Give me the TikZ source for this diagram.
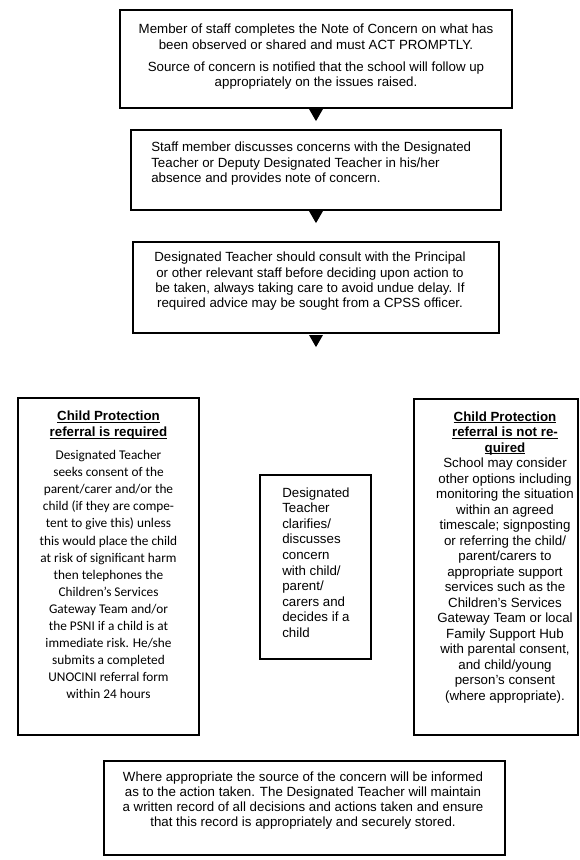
\documentclass[tikz,border=0pt]{standalone}
\usepackage{fontspec}
\setmainfont{Liberation Sans}
\newfontfamily\calibrifont{Carlito}
\usetikzlibrary{shapes.geometric,positioning,calc}
\usepackage{xcolor}

\newcommand{\ulhead}[1]{\setbox0\hbox{\bfseries #1}\rlap{\rule[-2pt]{\wd0}{1.1pt}}\box0}

\begin{document}
\begin{tikzpicture}[x=1pt,y=1pt,
    frame/.style={draw,line width=1.8pt,rectangle,inner sep=0pt},
    txt/.style={inner sep=0pt,font=\fontsize{13.3}{15.3}\selectfont},
    calbody/.style={inner sep=0pt,align=center,font=\calibrifont\fontsize{13.3}{17.1}\selectfont},
    tri/.style={regular polygon,regular polygon sides=3,shape border rotate=180,fill=black,inner sep=0pt,minimum size=16pt}]

  \useasboundingbox (0,0) rectangle (580,-860);
  % \draw[help lines,step=20] (0,0) grid (580,-860);

  % the three steps at the top
  \node (concern) [frame,minimum width=392pt,minimum height=98pt] at (316,-59) {};
  \node (discuss) [frame,minimum width=370pt,minimum height=80pt] at (316,-170) {};
  \node (consult) [frame,minimum width=366pt,minimum height=91pt] at (316,-287.5) {};

  \node (tri1) [tri,below=0pt of concern] {};
  \node (tri2) [tri,below=0pt of discuss] {};
  \node (tri3) [tri,below=1pt of consult] {};

  \node (concerntext) [txt,align=center,below=15pt of concern.north] {Member of staff completes the Note of Concern on what has\\
    been observed or shared and must ACT PROMPTLY.\\[7pt]
    Source of concern is notified that the school will follow up\\
    appropriately on the issues raised.};

  \node (discusstext) [txt,align=left,anchor=north west,font=\fontsize{13.3}{15.5}\selectfont] at ($(discuss.north west)+(21,-13)$) {Staff member discusses concerns with the Designated\\
    Teacher or Deputy Designated Teacher in his/her\\
    absence and provides note of concern.};

  \node (consulttext) [txt,align=center,anchor=north] at ($(consult.north)+(-6,-11)$) {Designated Teacher should consult with the Principal\\
    or other relevant staff before deciding upon action to\\
    be taken, always taking care to avoid undue delay. If\\
    required advice may be sought from a CPSS officer.};

  % the three outcomes
  \node (required) [frame,minimum width=181pt,minimum height=337pt] at (108.5,-566.5) {};
  \node (clarify) [frame,minimum width=111pt,minimum height=184pt] at (315.5,-567) {};
  \node (notrequired) [frame,minimum width=164pt,minimum height=336pt] at (496,-567) {};

  \node (reqhead) [txt,align=center,anchor=north,font=\fontsize{13.3}{16}\selectfont] at ($(required.north)+(0,-14)$) {\ulhead{Child Protection}\\
    \ulhead{referral is required}};
  \node (reqbody) [calbody,anchor=north] at ($(required.north)+(0,-53)$) {Designated Teacher\\
    seeks consent of the\\
    parent/carer and/or the\\
    child (if they are compe-\\
    tent to give this) unless\\
    this would place the child\\
    at risk of significant harm\\
    then telephones the\\
    Children’s Services\\
    Gateway Team and/or\\
    the PSNI if a child is at\\
    immediate risk. He/she\\
    submits a completed\\
    UNOCINI referral form\\
    within 24 hours};

  \node (clarifytext) [txt,align=left,anchor=north west,font=\fontsize{13.3}{15.55}\selectfont] at ($(clarify.north west)+(23,-13.4)$) {Designated\\
    Teacher\\
    clarifies/\\
    discusses\\
    concern\\
    with child/\\
    parent/\\
    carers and\\
    decides if a\\
    child};

  \node (notreqtext) [txt,align=center,anchor=north,font=\fontsize{13.3}{15.5}\selectfont] at ($(notrequired.north)+(9,-13.4)$) {\ulhead{Child Protection}\\
    \ulhead{referral is not re-}\\
    \ulhead{quired}\\
    School may consider\\
    other options including\\
    monitoring the situation\\
    within an agreed\\
    timescale; signposting\\
    or referring the child/\\
    parent/carers to\\
    appropriate support\\
    services such as the\\
    Children’s Services\\
    Gateway Team or local\\
    Family Support Hub\\
    with parental consent,\\
    and child/young\\
    person’s consent\\
    (where appropriate).};

  % closing step
  \node (outcome) [frame,minimum width=401pt,minimum height=94pt] at (304.5,-808) {};
  \node (outcometext) [txt,align=center,anchor=north,font=\fontsize{13.3}{15.2}\selectfont] at ($(outcome.north)+(-1.5,-11.4)$) {Where appropriate the source of the concern will be informed\\
    as to the action taken. The Designated Teacher will maintain\\
    a written record of all decisions and actions taken and ensure\\
    that this record is appropriately and securely stored.};

\end{tikzpicture}
\end{document}
